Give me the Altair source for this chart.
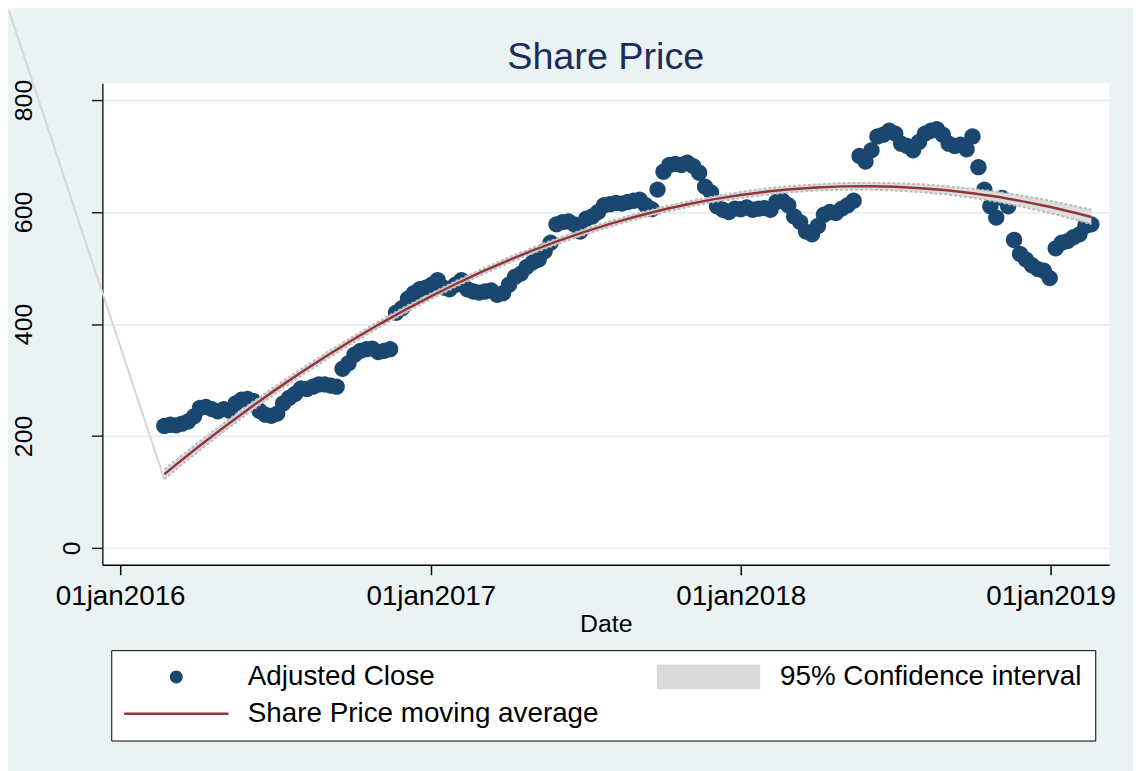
import altair as alt
import pandas as pd

FONT = "Liberation Sans"
TITLE = "Share Price"

SERIES = ["Adjusted Close", "95% Confidence interval", "Share Price moving average"]
SERIES_COLORS = ["#1a476f", "#d9d9d9", "#90353b"]
SERIES_SHAPES = [
    "M0.52,0A0.52,0.52,0,1,1,-0.52,0A0.52,0.52,0,1,1,0.52,0Z",
    "M-4.16,-1H4.16V1H-4.16Z",
    "M-4.2,-0.1H4.2V0.1H-4.2Z",
]

# weekly adjusted close, starting 2016-02-22
close_start = "2016-02-22"
close_values = [
    218, 220, 219, 222, 226, 235, 250, 252, 248, 244, 248, 245, 258, 265, 266, 262,
    245, 238, 236, 240, 258, 268, 275, 285, 284, 288, 292, 292, 290, 288, 320, 330,
    345, 352, 355, 356, 350, 352, 355, 420, 428, 445, 455, 462, 465, 470, 478, 465,
    462, 470, 478, 462, 458, 456, 458, 460, 452, 455, 470, 484, 490, 502, 510, 515,
    530, 545, 578, 582, 583, 578, 565, 588, 592, 600, 612, 614, 616, 615, 618, 620,
    622, 612, 605, 640, 672, 684, 686, 684, 688, 682, 670, 645, 635, 610, 604, 600,
    606, 605, 608, 604, 606, 607, 604, 618, 620, 612, 592, 582, 565, 560, 575, 595,
    600, 598, 606, 612, 620, 700, 690, 710, 735, 738, 745, 740, 722, 718, 710, 725,
    740, 745, 748, 738, 722, 718, 720, 712, 735, 680, 640, 610, 590, 625, 610, 550,
    525, 515, 505, 498, 495, 482, 535, 545, 548, 555, 560, 575, 578,
]

fit_dates = [
    "2016-02-22", "2016-03-01", "2016-04-01", "2016-05-01", "2016-06-01", "2016-07-01",
    "2016-08-01", "2016-09-01", "2016-10-01", "2016-11-01", "2016-12-01", "2017-01-01",
    "2017-02-01", "2017-03-01", "2017-04-01", "2017-05-01", "2017-06-01", "2017-07-01",
    "2017-08-01", "2017-09-01", "2017-10-01", "2017-11-01", "2017-12-01", "2018-01-01",
    "2018-02-01", "2018-03-01", "2018-04-01", "2018-05-01", "2018-06-01", "2018-07-01",
    "2018-08-01", "2018-09-01", "2018-10-01", "2018-11-01", "2018-12-01", "2019-01-01",
    "2019-02-01", "2019-02-18",
]
fit_values = [
    131.7, 141.6, 179.3, 214.3, 249.1, 281.4, 313.3, 343.8, 371.8, 399.4, 424.7, 449.4,
    472.7, 492.4, 512.8, 531.3, 548.9, 564.4, 579.2, 592.4, 603.9, 614.3, 622.9, 630.4,
    636.4, 640.7, 643.9, 645.7, 646.0, 645.0, 642.5, 638.6, 633.4, 626.6, 618.5, 608.8,
    597.7, 591.0,
]
ci_low = [
    122.7, 133.1, 171.3, 206.8, 242.1, 274.9, 307.3, 337.8, 366.3, 393.9, 419.2, 444.4,
    467.7, 487.4, 507.8, 526.3, 543.9, 559.4, 574.2, 587.4, 598.9, 609.3, 617.9, 624.9,
    630.9, 635.2, 638.4, 639.7, 640.0, 638.5, 635.5, 631.1, 625.4, 617.6, 608.5, 597.8,
    585.7, 578.0,
]
ci_high = [
    140.7, 150.1, 187.3, 221.8, 256.1, 287.9, 319.3, 349.8, 377.3, 404.9, 430.2, 454.4,
    477.7, 497.4, 517.8, 536.3, 553.9, 569.4, 584.2, 597.4, 608.9, 619.3, 627.9, 635.9,
    641.9, 646.2, 649.4, 651.7, 652.0, 651.5, 649.5, 646.1, 641.4, 635.6, 628.5, 619.8,
    609.7, 604.0,
]

# stray band edge running off the top-left of the graph
stray_dates = ["2015-08-23", "2016-02-22"]
stray_values = [959.6, 122.7]

x_tick_years = [2016, 2017, 2018, 2019]
y_ticks = [0, 200, 400, 600, 800]

close_dates = [d.strftime("%Y-%m-%d") for d in
               pd.date_range(close_start, periods=len(close_values), freq="7D")]
close_df = pd.DataFrame({"date": close_dates, "value": close_values,
                         "series": SERIES[0]})
fit_df = pd.DataFrame({"date": fit_dates, "fit": fit_values, "lo": ci_low, "hi": ci_high})
stray_df = pd.DataFrame({"date": stray_dates, "value": stray_values})

x_scale = alt.Scale(type="utc",
                    domain=[alt.DateTime(year=2015, month=12, date=11, utc=True),
                            alt.DateTime(year=2019, month=3, date=11, utc=True)])
y_scale = alt.Scale(domain=[-30, 830], nice=False, zero=False)

x_axis = alt.Axis(
    values=[alt.DateTime(year=y, month=1, date=1, utc=True) for y in x_tick_years],
    labelExpr="utcFormat(datum.value, '%d') + lower(utcFormat(datum.value, '%b')) + utcFormat(datum.value, '%Y')",
    title="Date", grid=False,
    domainColor="black", domainWidth=1.5, tickColor="black", tickSize=10, tickWidth=1.5,
    labelFont=FONT, labelFontSize=28, labelColor="black", labelPadding=8, labelAngle=0,
    labelOverlap=False, labelFlush=False,
    titleFont=FONT, titleFontSize=25, titleColor="black", titleFontWeight="normal",
    titleY=67, titleBaseline="alphabetic",
)
y_axis = alt.Axis(
    values=y_ticks, title=None, grid=True, gridColor="#e6eff1", gridWidth=2,
    domainColor="#222222", domainWidth=1.5, tickColor="#222222", tickSize=11, tickWidth=1.5,
    labelAngle=270, labelAlign="center", labelBaseline="alphabetic",
    labelPadding={"condition": {"test": "datum.value === 0", "value": 12}, "value": 60},
    labelFont=FONT, labelFontSize=25, labelColor="black",
    labelOverlap=False, labelFlush=False,
)

legend = alt.Legend(
    title=None, orient="none", legendX=9, legendY=571, direction="horizontal", columns=2,
    columnPadding=58, rowPadding=9, padding=13, strokeColor="black", fillColor="white",
    labelFont=FONT, labelFontSize=28, labelColor="black", labelLimit=700,
    symbolSize=625, symbolOffset=38.5, labelOffset=58, symbolStrokeWidth=0,
    symbolOpacity=1, cornerRadius=0,
)

X = alt.X("date:T", scale=x_scale, axis=x_axis)


def Y(field):
    return alt.Y(field, scale=y_scale, axis=y_axis)


points = alt.Chart(close_df).mark_point(filled=True, opacity=1, size=1000, strokeWidth=0).encode(
    x=X,
    y=Y("value:Q"),
    color=alt.Color("series:N", scale=alt.Scale(domain=SERIES, range=SERIES_COLORS), legend=legend),
    shape=alt.Shape("series:N", scale=alt.Scale(domain=SERIES, range=SERIES_SHAPES), legend=legend),
)

stray = alt.Chart(stray_df).mark_line(color="#d6d6d6", strokeWidth=2, clip=False).encode(
    x=X, y=Y("value:Q"),
)

ci_area = alt.Chart(fit_df).mark_area(color="#dedede", opacity=1).encode(
    x=X, y=Y("lo:Q"), y2="hi:Q",
)
ci_lo = alt.Chart(fit_df).mark_line(color="#bcbcbc", strokeWidth=2, strokeDash=[3, 2]).encode(
    x=X, y=Y("lo:Q"),
)
ci_hi = alt.Chart(fit_df).mark_line(color="#bcbcbc", strokeWidth=2, strokeDash=[3, 2]).encode(
    x=X, y=Y("hi:Q"),
)
fit_line = alt.Chart(fit_df).mark_line(color="#90353b", strokeWidth=2.5).encode(
    x=X, y=Y("fit:Q"),
)

chart = alt.layer(points, stray, ci_area, ci_lo, ci_hi, fit_line).properties(
    width=1014, height=485,
    title=alt.TitleParams(TITLE, font=FONT, fontSize=38, color="#1c2c5b", fontWeight="normal",
                          anchor="middle", frame="group", offset=-101, baseline="alphabetic"),
    background="#eaf2f3",
    padding={"left": 95, "top": 73, "right": 24, "bottom": 205},
    autosize=alt.AutoSizeParams(type="none"),
).configure_view(fill="white", strokeWidth=0)

chart.save("out.html", embed_options={"renderer": "svg", "actions": False})
